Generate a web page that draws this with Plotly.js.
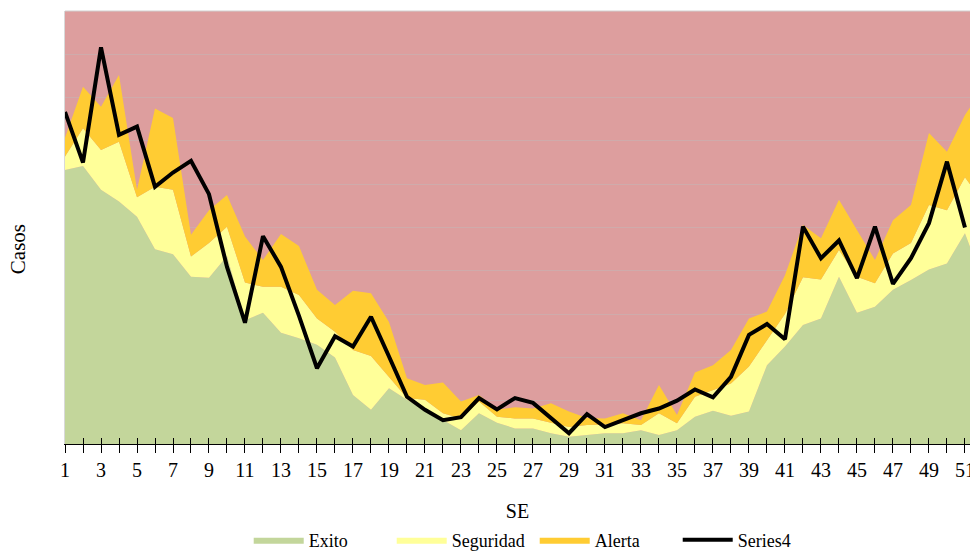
<!DOCTYPE html>
<html>
<head>
<meta charset="utf-8">
<script src="https://cdn.plot.ly/plotly-3.0.1.min.js"></script>
<style>html,body{margin:0;padding:0;background:#fff;}#chart{width:970px;height:554px;}</style>
</head>
<body>
<div id="chart"></div>
<script>
// Epidemiological weeks (SE)
const weeks = [1,2,3,4,5,6,7,8,9,10,11,12,13,14,15,16,17,18,19,20,21,22,23,24,25,26,27,28,29,30,31,32,33,34,35,36,37,38,39,40,41,42,43,44,45,46,47,48,49,50,51,52];
const lineWeeks = [1,2,3,4,5,6,7,8,9,10,11,12,13,14,15,16,17,18,19,20,21,22,23,24,25,26,27,28,29,30,31,32,33,34,35,36,37,38,39,40,41,42,43,44,45,46,47,48,49,50,51];
const tickLabels = [1,3,5,7,9,11,13,15,17,19,21,23,25,27,29,31,33,35,37,39,41,43,45,47,49,51];

// Zone upper limits (cumulative levels of the channel)
const exito = [63.3,64.2,58.7,56.0,52.5,45.0,43.8,38.6,38.4,43.4,28.6,30.3,25.7,24.4,22.9,20.0,11.3,7.9,12.9,10.2,7.9,5.5,3.2,7.1,4.9,3.6,3.6,2.5,1.7,2.1,2.5,2.5,3.2,2.1,3.2,6.3,7.7,6.5,7.5,18.2,22.5,27.5,29.0,38.6,30.3,31.7,35.6,37.9,40.3,41.7,48.7,37.4];
const seguridad = [66.4,72.9,67.9,69.8,57.0,59.4,58.7,43.3,46.4,50.2,37.3,36.3,36.3,34.4,29.0,25.9,21.7,20.3,15.5,10.6,10.2,7.1,5.9,9.8,6.3,5.9,5.9,4.9,3.9,4.4,4.5,4.8,4.4,7.1,4.8,10.9,12.5,14.0,17.9,24.0,30.0,38.5,38.0,44.8,38.6,37.1,44.0,46.4,55.2,54.0,61.6,55.9];
const alerta = [70.7,82.5,77.9,85.2,58.7,77.5,75.3,48.3,54.0,57.5,47.9,42.5,48.5,45.7,35.6,32.1,35.4,34.8,28.2,15.2,13.6,14.2,9.8,11.3,7.9,8.5,8.2,9.4,7.5,6.0,5.9,7.1,5.5,13.6,6.7,16.5,18.2,21.7,29.0,30.6,39.0,50.6,47.5,56.4,49.4,42.5,51.7,55.2,71.8,67.5,76.0,82.2];
// Current season cases
const series4 = [76.7,65.0,91.6,71.4,73.3,59.4,62.7,65.4,57.7,40.9,28.0,48.0,40.9,29.6,17.5,24.9,22.5,29.4,20.2,10.9,7.9,5.5,6.2,10.6,8.0,10.6,9.5,5.9,2.5,6.9,3.9,5.5,7.1,8.2,10.0,12.6,10.8,15.5,25.2,27.7,24.2,50.2,42.9,47.0,38.3,50.2,37.0,42.9,51.0,65.2,50.0];

const serif = '"Liberation Serif", "Times New Roman", serif';

const traces = [
  {x: weeks, y: exito, name: 'Exito', type: 'scatter', mode: 'lines', fill: 'tozeroy',
   fillcolor: '#c3d69b', line: {width: 0, color: '#c3d69b'}, hoverinfo: 'skip'},
  {x: weeks, y: seguridad, name: 'Seguridad', type: 'scatter', mode: 'lines', fill: 'tonexty',
   fillcolor: '#ffff99', line: {width: 0, color: '#ffff99'}, hoverinfo: 'skip'},
  {x: weeks, y: alerta, name: 'Alerta', type: 'scatter', mode: 'lines', fill: 'tonexty',
   fillcolor: '#ffcc33', line: {width: 0, color: '#ffcc33'}, hoverinfo: 'skip'},
  {x: lineWeeks, y: series4, name: 'Series4', type: 'scatter', mode: 'lines', xaxis: 'x2',
   line: {width: 4, color: '#000000'}}
];

const layout = {
  width: 970, height: 554,
  margin: {l: 65, r: 0, t: 11, b: 110, autoexpand: false},
  paper_bgcolor: '#ffffff',
  plot_bgcolor: '#dd9e9e',
  font: {family: serif, size: 18, color: '#000'},
  showlegend: true,
  legend: {orientation: 'h', x: 0.203, xanchor: 'left', y: -0.222, yanchor: 'middle',
           font: {family: serif, size: 18, color: '#000'}, itemwidth: 50, entrywidth: 78,
           entrywidthmode: 'pixels', traceorder: 'normal'},
  xaxis: {
    range: [1, 51.28], tickmode: 'array', tickvals: tickLabels, ticktext: tickLabels.map(String),
    ticks: 'outside', ticklen: 8, tickcolor: '#000', tickwidth: 1, ticklabeloverflow: 'allow',
    ticklabelstandoff: 0, automargin: false,
    minor: {dtick: 1, tick0: 1, ticks: 'outside', ticklen: 8, tickcolor: '#000', tickwidth: 1, showgrid: false},
    showline: true, linecolor: '#000', linewidth: 1.3, showgrid: false, zeroline: false,
    tickfont: {family: serif, size: 20, color: '#000'},
    title: {text: 'SE', font: {family: serif, size: 20, color: '#000'}, standoff: 23}
  },
  xaxis2: {
    overlaying: 'x', matches: 'x', anchor: 'y', side: 'bottom', automargin: false,
    tickmode: 'array', tickvals: lineWeeks, ticks: 'inside', ticklen: 6, tickcolor: '#000', tickwidth: 1,
    showticklabels: false, showline: false, showgrid: false, zeroline: false
  },
  yaxis: {
    range: [0, 100], dtick: 10, tick0: 0, showticklabels: false, ticks: '', automargin: false,
    showgrid: true, gridcolor: '#cfabab', gridwidth: 1, zeroline: false,
    showline: true, linecolor: '#d9d9d9', linewidth: 1, mirror: true,
    title: {text: ''}
  },
  annotations: [{text: 'Casos', textangle: -90, xref: 'paper', yref: 'paper',
                 x: -0.0519, y: 0.45, xanchor: 'center', yanchor: 'middle', showarrow: false,
                 font: {family: serif, size: 21, color: '#000'}}],
  shapes: [{type: 'line', xref: 'paper', yref: 'paper', x0: 0, x1: 1, y0: 1, y1: 1,
            line: {color: '#d0d0d0', width: 1}}]
};

Plotly.newPlot('chart', traces, layout, {staticPlot: true, displayModeBar: false});
</script>
</body>
</html>
